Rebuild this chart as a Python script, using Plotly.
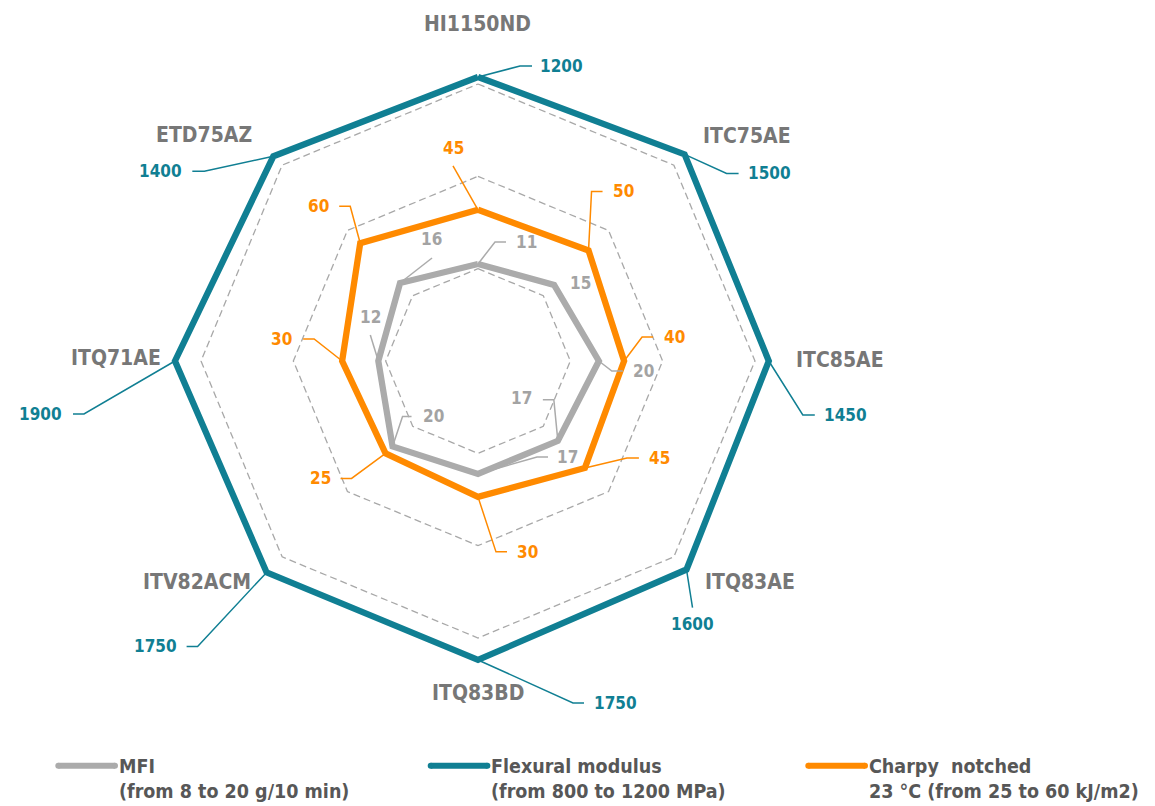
import numpy as np
import plotly.graph_objects as go

# ---------------- data ----------------
categories = ["HI1150ND", "ITC75AE", "ITC85AE", "ITQ83AE",
              "ITQ83BD", "ITV82ACM", "ITQ71AE", "ETD75AZ"]
mfi = [11, 15, 20, 17, 17, 20, 12, 16]
flexural = [1200, 1500, 1450, 1600, 1750, 1750, 1900, 1400]
charpy = [45, 50, 40, 45, 30, 25, 30, 60]
grid_levels = [1, 2, 3]

legend_titles = ["MFI", "Flexural modulus", "Charpy\u00a0 notched"]
legend_ranges = ["(from 8 to 20 g/10 min)", "(from 800 to 1200 MPa)",
                 "23 °C (from 25 to 60 kJ/m2)"]

# ---------------- styles / layout ----------------
W, H = 1155, 806
CX, CY = 478, 361          # centre of the radar in page pixels
UNIT = 92.33               # pixels per radial grid unit
FONT = "DejaVu Sans Condensed, DejaVu Sans"

BLUE = "#107f93"
ORANGE = "#ff8a00"
GREY = "#ababab"
GREY_TXT = "#a3a3a3"
CAT_TXT = "#777777"
LEG_TXT = "#575757"

# radial scale of each series: (value domain) -> (radius in grid units)
scales = {
    "mfi": ((8, 20), (0.965, 1.309)),
    "flex": ((1200, 1900), (3.076, 3.282)),
    "charpy": ((25, 60), (1.416, 1.804)),
}

theta = np.deg2rad(90 - 45 * np.arange(len(categories)))


def to_radius(values, key):
    (d0, d1), (r0, r1) = scales[key]
    v = np.asarray(values, float)
    return r0 + (v - d0) / (d1 - d0) * (r1 - r0)


def polar(r_units):
    r = np.asarray(r_units, float) * UNIT
    return r * np.cos(theta), r * np.sin(theta)


def closed(a):
    return list(a) + [a[0]]


# leader specs (dx, dy_down, tail, text_dx, text_dy_down, anchor) in px
lead_flex = [(42, -11, 12, 7, 0, "left"), (42, 19, 12, 8, 0, "left"),
             (34, 54, 12, 8, 0, "left"), (6, 38, 0, 0, 16, "center"),
             (95, 43, 11, 9, 0, "left"), (-69, 74, -11, -9, 0, "right"),
             (-91, 53, -11, -10, 0, "right"), (-69, 15, -12, -9, 0, "right")]
lead_charpy = [(-25, -44, 0, 0, -18, "center"), (3, -59, 11, 9, 0, "left"),
               (18, -24, 11, 10, 0, "left"), (42, -10, 12, 9, 0, "left"),
               (18, 55, 11, 9, 0, "left"), (-34, 25, -11, -9, 0, "right"),
               (-28, -22, -11, -10, 0, "right"), (-10, -37, -11, -9, 0, "right")]
lead_mfi = [(17, -22, 11, 9, 0, "left"), (0, 0, 0, 26, -2, "center"),
            (13, 10, 11, 9, 0, "left"), (-4, -41, -11, -10, -2, "right"),
            (59, -17, 11, 8, 0, "left"), (10, -30, 9, 10, 0, "left"),
            (-8, -26, 0, 0, -18, "center"), (32, -25, 0, -1, -19, "center")]
cat_offsets = [(-0.5, -53), (62, -18), (71.5, -1), (63, 12),
               (0, 33), (-70, 10), (-59, -3), (-69, -21)]

legend_x = [58.3, 430.7, 808.3]
legend_y = 765.7
legend_len = 56.7

fig = go.Figure()

# grid octagons
for lv in grid_levels:
    gx, gy = polar(np.full(len(categories), lv))
    fig.add_trace(go.Scatter(x=closed(gx), y=closed(gy), mode="lines",
                             line=dict(color="#a8a8a8", width=1.3, dash="7px,4px"),
                             hoverinfo="skip", showlegend=False))

series = [
    ("flex", flexural, BLUE, BLUE, lead_flex),
    ("charpy", charpy, ORANGE, ORANGE, lead_charpy),
    ("mfi", mfi, GREY, GREY_TXT, lead_mfi),
]

annotations = []
vertices = {}
for key, vals, col, tcol, leads in series:
    sx, sy = polar(to_radius(vals, key))
    vertices[key] = (sx, sy)
    fig.add_trace(go.Scatter(x=closed(sx), y=closed(sy), mode="lines",
                             line=dict(color=col, width=6.3),
                             hoverinfo="skip", showlegend=False))

for key, vals, col, tcol, leads in series:
    sx, sy = vertices[key]
    lx, ly = [], []
    for i, (v, spec) in enumerate(zip(vals, leads)):
        dx, dy, tail, tdx, tdy, anc = spec
        x0, y0 = sx[i], sy[i]
        ex, ey = x0 + dx, y0 - dy
        tx, ty = ex + tail, ey
        if dx or dy:
            lx += [x0, ex, tx, None]
            ly += [y0, ey, ty, None]
        annotations.append(dict(x=tx + tdx, y=ty - tdy, xref="x", yref="y",
                                text=str(v), showarrow=False, xanchor=anc,
                                yanchor="middle", borderpad=0,
                                font=dict(family=FONT, size=17, color=tcol,
                                          weight="bold")))
    fig.add_trace(go.Scatter(x=lx, y=ly, mode="lines",
                             line=dict(color=col, width=1.5),
                             hoverinfo="skip", showlegend=False))

# category labels
bx, by = vertices["flex"]
for i, (name, (ox, oy)) in enumerate(zip(categories, cat_offsets)):
    annotations.append(dict(x=bx[i] + ox, y=by[i] - oy, xref="x", yref="y",
                            text=name, showarrow=False, xanchor="center",
                            yanchor="middle",
                            font=dict(family=FONT, size=21, color=CAT_TXT,
                                      weight="bold")))

# legend
for lx0, col, t1, t2 in zip(legend_x, [GREY, BLUE, ORANGE], legend_titles, legend_ranges):
    xs = [lx0 - CX, lx0 + legend_len - CX]
    ys = [CY - legend_y, CY - legend_y]
    fig.add_trace(go.Scatter(x=xs, y=ys, mode="lines+markers",
                             line=dict(color=col, width=6),
                             marker=dict(color=col, size=6),
                             hoverinfo="skip", showlegend=False))
    for txt, yy in ((t1, 766), (t2, 791)):
        annotations.append(dict(x=lx0 + legend_len + 3 - CX, y=CY - yy, xref="x", yref="y",
                                text=txt, showarrow=False, xanchor="left", yanchor="middle",
                                borderpad=0,
                                font=dict(family=FONT, size=19.5, color=LEG_TXT,
                                          weight="bold")))

fig.update_layout(
    width=W, height=H, margin=dict(l=0, r=0, t=0, b=0),
    paper_bgcolor="white", plot_bgcolor="white",
    xaxis=dict(range=[-CX, W - CX], visible=False, fixedrange=True),
    yaxis=dict(range=[-(H - CY), CY], visible=False, fixedrange=True),
    annotations=annotations, showlegend=False,
)

fig.write_html("out.html", config={"displayModeBar": False},
               post_script="document.body.style.margin='0';document.body.style.overflow='hidden';")
